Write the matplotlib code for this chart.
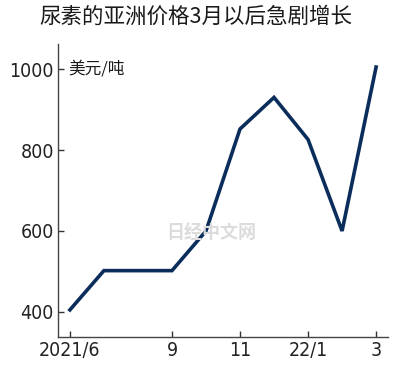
import matplotlib
matplotlib.use("Agg")
import matplotlib.pyplot as plt
from matplotlib import font_manager

months = list(range(10))  # 2021/6 .. 2022/3
prices = [405, 502, 502, 502, 600, 852, 930, 826, 600, 1005]
tick_pos = [0, 3, 5, 7, 9]
tick_labels = ["2021/6", "9", "11", "22/1", "3"]
y_ticks = [400, 600, 800, 1000]

names = {f.name for f in font_manager.fontManager.ttflist}
num_font = "Liberation Sans Narrow" if "Liberation Sans Narrow" in names else "DejaVu Sans"
cjk = ["Noto Sans CJK SC", "DejaVu Sans"]

fig = plt.figure(figsize=(4.0, 3.75), dpi=100)
ax = fig.add_axes([58 / 400, 1 - 337 / 375, (388 - 58) / 400, (337 - 44) / 375])

ax.plot(months, prices, color="#0b2d5b", lw=2.6, solid_joinstyle="miter")

ax.set_xlim(-0.35, 9.35)
ax.set_ylim(338, 1062)
ax.set_xticks(tick_pos)
ax.set_xticklabels(tick_labels)
ax.set_yticks(y_ticks)
ax.tick_params(direction="in", length=4, width=1, color="#333333",
               labelsize=14, pad=3)
for lab in ax.get_xticklabels() + ax.get_yticklabels():
    lab.set_family(num_font)
    lab.set_stretch("condensed")
    lab.set_color("#222222")

for s in ["top", "right"]:
    ax.spines[s].set_visible(False)
for s in ["left", "bottom"]:
    ax.spines[s].set_color("#444444")
    ax.spines[s].set_linewidth(1.0)

fig.text(0.49, 1 - 17 / 375, "尿素的亚洲价格3月以后急剧增长", ha="center", va="center",
         fontsize=15.5, family=cjk, color="#1a1a1a")
fig.text(68 / 400, 1 - 69 / 375, "美元/吨", ha="left", va="center",
         fontsize=12, family=cjk, color="#1a1a1a")
fig.text(211 / 400, 1 - 233 / 375, "日经中文网", ha="center", va="center",
         fontsize=13, family=cjk, weight="bold", color="#dcdcdc", zorder=0)

fig.savefig("out.png", dpi=100)
